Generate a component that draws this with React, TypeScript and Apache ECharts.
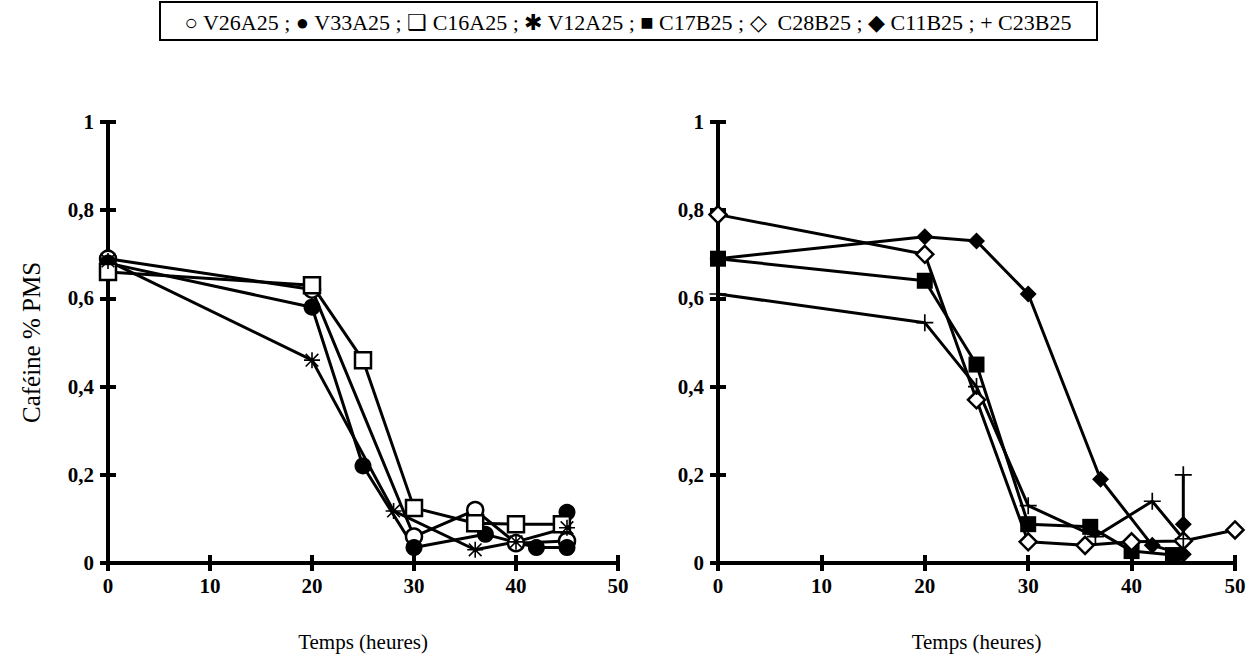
import React, { useEffect, useRef } from "react";
import * as echarts from "echarts";

// ---------- data ----------
const xTicks = [0, 10, 20, 30, 40, 50];
const yTicks = [0, 0.2, 0.4, 0.6, 0.8, 1];

// left panel (A25)
const V26A25: number[][] = [[0, 0.69], [20, 0.62], [30, 0.06], [36, 0.12], [40, 0.045], [45, 0.05]];
const V33A25: number[][] = [[0, 0.68], [20, 0.58], [25, 0.22], [30, 0.035], [37, 0.065], [42, 0.035], [45, 0.035], [45, 0.115]];
const C16A25: number[][] = [[0, 0.66], [20, 0.63], [25, 0.46], [30, 0.125], [36, 0.09], [40, 0.088], [44.5, 0.088]];
const V12A25: number[][] = [[0, 0.685], [20, 0.46], [28, 0.118], [36, 0.03], [40, 0.048], [45, 0.08]];

// right panel (B25)
const C17B25: number[][] = [[0, 0.69], [20, 0.64], [25, 0.45], [30, 0.088], [36, 0.082], [40, 0.027], [44, 0.018]];
const C28B25: number[][] = [[0, 0.79], [20, 0.7], [25, 0.37], [30, 0.048], [35.5, 0.04], [40, 0.048], [45, 0.05], [50, 0.075]];
const C11B25: number[][] = [[0, 0.69], [20, 0.74], [25, 0.73], [30, 0.61], [37, 0.19], [42, 0.04], [45, 0.02], [45, 0.088]];
const C23B25: number[][] = [[0, 0.61], [20, 0.545], [25, 0.4], [30, 0.13], [36.5, 0.06], [42, 0.14], [45, 0.055], [45, 0.2]];

const legendText = "○ V26A25 ; ● V33A25 ; ❑ C16A25 ; ✱ V12A25 ; ■ C17B25 ; ◇  C28B25 ; ◆ C11B25 ; + C23B25";
const xName = "Temps (heures)";
const yName = "Caféine % PMS";

// ---------- symbols ----------
const ASTERISK =
  "path://M9,0 L11,0 L11,20 L9,20 Z M0,9 L20,9 L20,11 L0,11 Z M1.4,2.8 L2.8,1.4 L18.6,17.2 L17.2,18.6 Z M17.2,1.4 L18.6,2.8 L2.8,18.6 L1.4,17.2 Z";
const PLUS = "path://M9,0 L11,0 L11,20 L9,20 Z M0,9 L20,9 L20,11 L0,11 Z";

const FONT = "'Liberation Serif', 'Times New Roman', serif";

function App() {
  const ref = useRef<HTMLDivElement>(null);
  useEffect(() => {
    if (!ref.current) return;
    const chart = echarts.init(ref.current, undefined, { renderer: "svg" });

    const grids = [
      { left: 108, top: 122, width: 510, height: 441 },
      { left: 718, top: 122, width: 517, height: 441 },
    ];

    const fmtY = (v: number) => String(Math.round(v * 10) / 10).replace(".", ",");

    const xAxes: any[] = [];
    const yAxes: any[] = [];
    [0, 1].forEach((g) => {
      const base = { type: "value", min: xTicks[0], max: xTicks[xTicks.length - 1], interval: 10, gridIndex: g, splitLine: { show: false } };
      xAxes.push({
        ...base,
        position: "bottom",
        name: xName,
        nameLocation: "middle",
        nameGap: 68,
        nameTextStyle: { fontFamily: FONT, fontSize: 21, color: "#000" },
        axisLine: { show: true, onZero: false, lineStyle: { color: "#000", width: 4 } },
        axisTick: { show: true, length: 8, lineStyle: { color: "#000", width: 4 } },
        axisLabel: { margin: 12, fontFamily: FONT, fontSize: 21, fontWeight: "bold", color: "#000" },
      });
      xAxes.push({
        ...base,
        position: "bottom",
        axisLine: { show: false, onZero: false },
        axisTick: { show: true, inside: true, length: 8, lineStyle: { color: "#000", width: 4 } },
        axisLabel: { show: false },
      });
      const ybase = { type: "value", min: yTicks[0], max: yTicks[yTicks.length - 1], interval: 0.2, gridIndex: g, splitLine: { show: false } };
      yAxes.push({
        ...ybase,
        position: "left",
        name: g === 0 ? yName : "",
        nameLocation: "middle",
        nameGap: 64,
        nameRotate: 90,
        nameTextStyle: { fontFamily: FONT, fontSize: 25, color: "#000" },
        axisLine: { show: true, onZero: false, lineStyle: { color: "#000", width: 4 } },
        axisTick: { show: true, length: 8, lineStyle: { color: "#000", width: 4 } },
        axisLabel: { margin: 14, fontFamily: FONT, fontSize: 21, fontWeight: "bold", color: "#000", formatter: fmtY },
      });
      yAxes.push({
        ...ybase,
        position: "left",
        offset: 0,
        axisLine: { show: false, onZero: false },
        axisTick: { show: true, inside: true, length: 8, lineStyle: { color: "#000", width: 4 } },
        axisLabel: { show: false },
      });
    });

    const mk = (name: string, data: number[][], g: number, symbol: string, size: number, filled: boolean) => ({
      name,
      type: "line",
      xAxisIndex: g * 2,
      yAxisIndex: g * 2,
      data,
      symbol,
      symbolSize: size,
      showAllSymbol: true,
      lineStyle: { color: "#000", width: 3 },
      itemStyle: filled
        ? { color: "#000", borderColor: "#000", borderWidth: 0 }
        : { color: "#fff", borderColor: "#000", borderWidth: 2.5 },
      z: 3,
    });

    chart.setOption({
      animation: false,
      backgroundColor: "#fff",
      grid: grids,
      xAxis: xAxes,
      yAxis: yAxes,
      series: [
        mk("V26A25", V26A25, 0, "circle", 16, false),
        mk("V33A25", V33A25, 0, "circle", 17, true),
        mk("C16A25", C16A25, 0, "rect", 16, false),
        mk("V12A25", V12A25, 0, ASTERISK, 16, true),
        mk("C17B25", C17B25, 1, "rect", 16, true),
        mk("C28B25", C28B25, 1, "diamond", 17, false),
        mk("C11B25", C11B25, 1, "diamond", 17, true),
        mk("C23B25", C23B25, 1, PLUS, 17, true),
      ],
      graphic: [
        {
          type: "rect",
          shape: { x: 160, y: 2, width: 937, height: 38 },
          style: { fill: "#fff", stroke: "#000", lineWidth: 2 },
        },
        {
          type: "text",
          x: 628,
          y: 22,
          style: {
            text: legendText,
            fontFamily: FONT,
            fontSize: 22,
            fontWeight: "normal",
            fill: "#000",
            align: "center",
            verticalAlign: "middle",
          },
        },
      ],
    });
    return () => chart.dispose();
  }, []);
  return <div ref={ref} style={{ position: "fixed", left: 0, top: 0, width: 1260, height: 664 }} />;
}

export default App;
